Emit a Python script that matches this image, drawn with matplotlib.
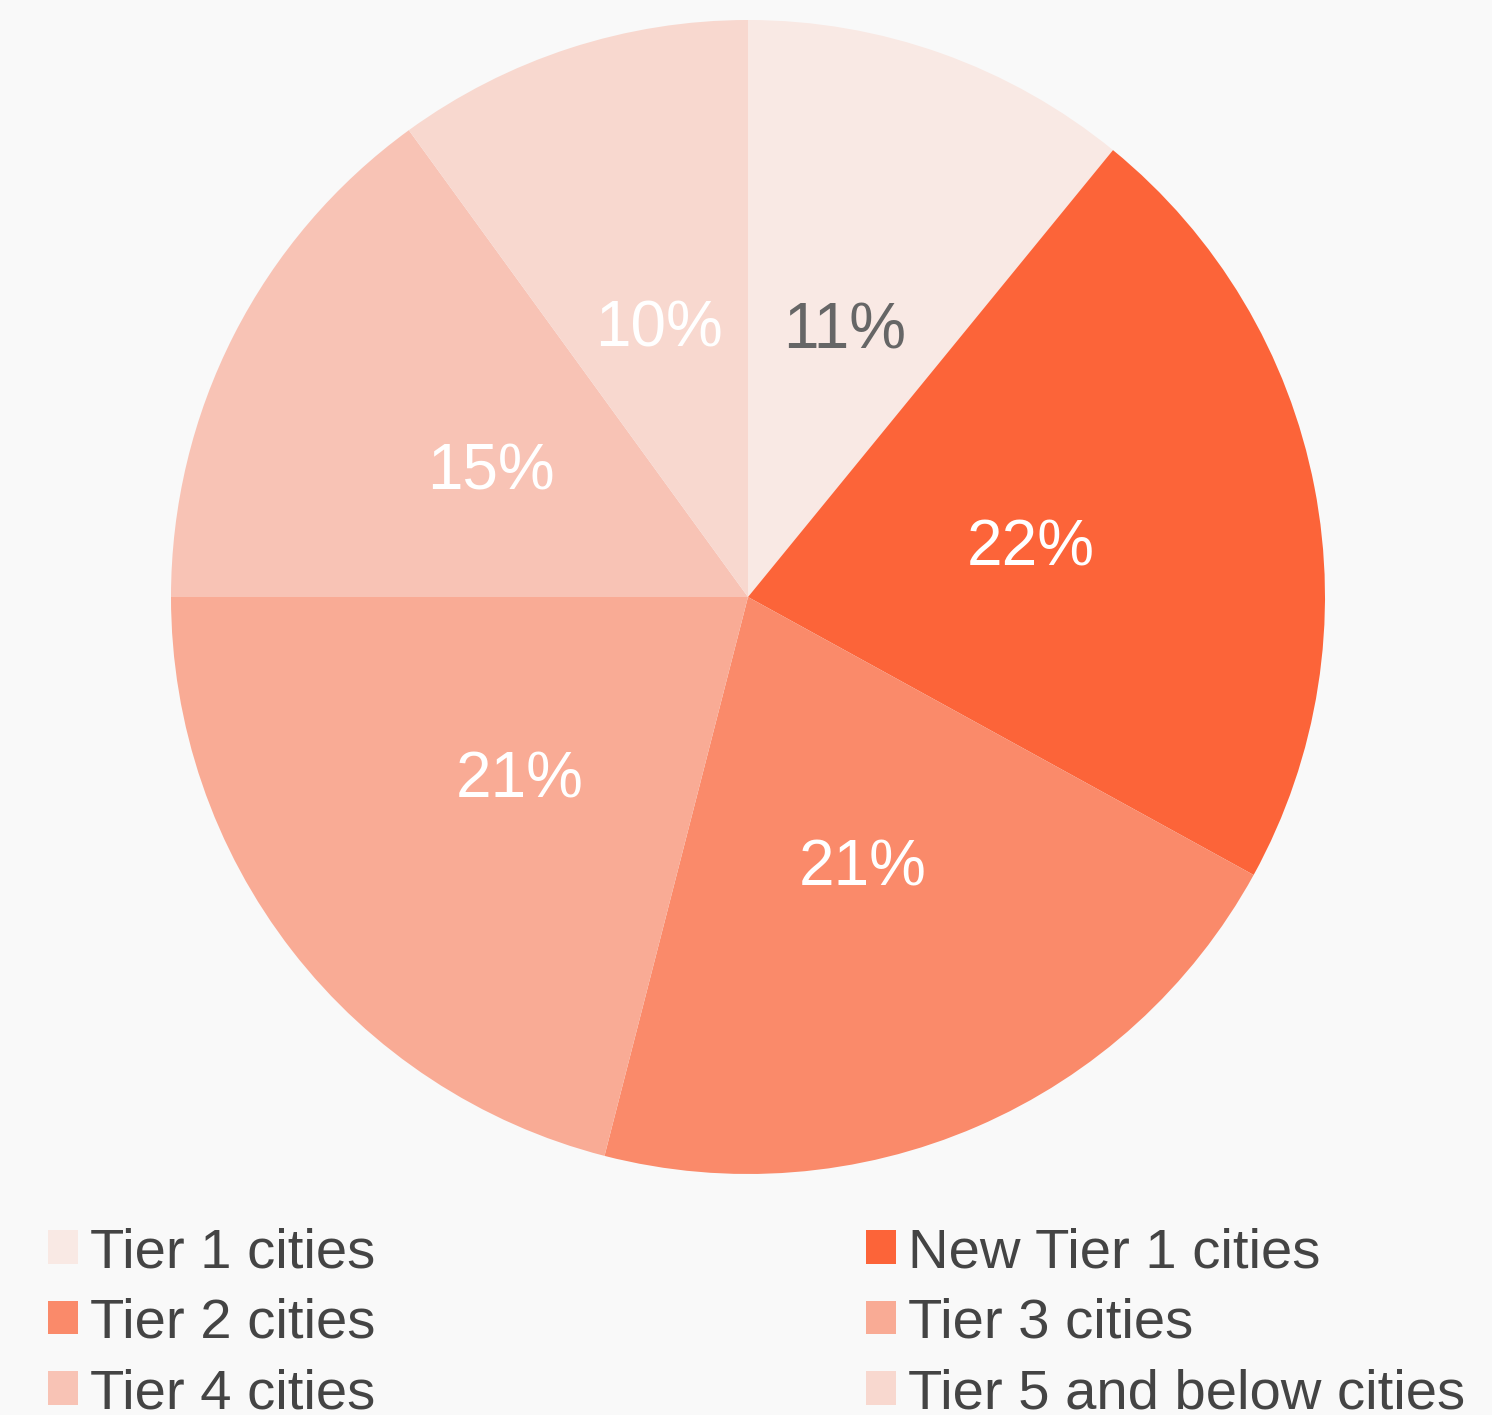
import numpy as np
from matplotlib import pyplot as plt
from matplotlib.patches import Patch

plt.rcParams['font.family'] = ['Liberation Sans', 'DejaVu Sans']

labels = ['Tier 1 cities', 'New Tier 1 cities', 'Tier 2 cities',
          'Tier 3 cities', 'Tier 4 cities', 'Tier 5 and below cities']
shares = [10.9, 22.1, 21.0, 21.0, 15.0, 10.0]
colors = ['#F9E9E4', '#FC6439', '#FA8A6A', '#F9AB95', '#F8C3B5', '#F8D8CF']
pct_colors = ['#666666', 'white', 'white', 'white', 'white', 'white']

W, H = 1492, 1415
fig = plt.figure(figsize=(W / 100, H / 100), dpi=100, facecolor='#F9F9F9')

# pie centre and radius in pixels
cx, cy, r = 748, 597, 577
ax = fig.add_axes([(cx - r) / W, 1 - (cy + r) / H, 2 * r / W, 2 * r / H])
ax.set_facecolor('none')

wedges, texts, autotexts = ax.pie(
    shares, colors=colors, startangle=90, counterclock=False,
    autopct=lambda p: f'{p:.0f}%', pctdistance=0.5, radius=1,
    wedgeprops=dict(linewidth=0),
    textprops=dict(fontsize=46))
for t, c in zip(autotexts, pct_colors):
    t.set_color(c)
    t.set_va('center_baseline')
ax.set_xlim(-1, 1)
ax.set_ylim(-1, 1)
ax.set_aspect('equal')

# legend, row-major order like the original
order = [0, 2, 4, 1, 3, 5]
handles = [Patch(facecolor=colors[i], edgecolor='none') for i in order]
leg = fig.legend(handles, [labels[i] for i in order], ncol=2,
                 loc='upper left', bbox_to_anchor=(48 / W, 1 - 1227 / H),
                 frameon=False, fontsize=40.5, borderpad=0, borderaxespad=0,
                 handlelength=0.54, handleheight=0.54, handletextpad=0.21,
                 columnspacing=8.71, labelspacing=0.33)
for t in leg.get_texts():
    t.set_color('#444444')

plt.savefig('out.png', dpi=100, facecolor=fig.get_facecolor())
